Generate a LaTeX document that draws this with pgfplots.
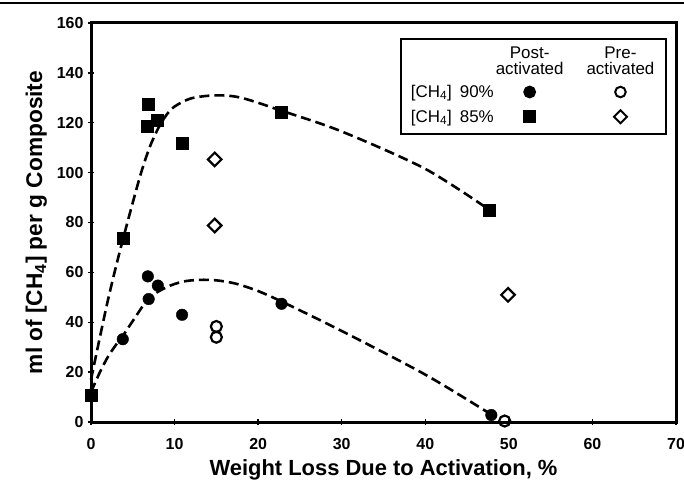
\documentclass[border=0pt]{standalone}
\usepackage{fontspec}
\setmainfont{Liberation Sans}
\usepackage{pgfplots}
\pgfplotsset{compat=1.18}
\begin{document}
\begin{tikzpicture}
\begin{axis}[
  scale only axis, width=585bp, height=399bp,
  xmin=0, xmax=70, ymin=0, ymax=160,
  xtick={0,10,...,70}, ytick={0,20,...,160},
  xtick pos=bottom, ytick pos=left,
  tick align=center, major tick length=6bp,
  every tick/.style={black, line width=1.3bp},
  axis line style={line width=3bp},
  /pgf/number format/assume math mode=true,
  ticklabel style={font=\bfseries\fontsize{16}{16}\selectfont},
  xticklabel style={yshift=-12bp, inner ysep=1bp},
  yticklabel style={xshift=-1bp},
  xlabel={Weight Loss Due to Activation, \%},
  ylabel={ml of [CH\textsubscript{4}] per g Composite},
  label style={font=\bfseries\fontsize{22}{22}\selectfont},
  xlabel style={at={(axis description cs:0.5,0)}, anchor=base, yshift=-53bp, inner ysep=1bp},
  ylabel style={yshift=3bp, font=\bfseries\fontsize{22.8}{22.8}\selectfont},
  clip=false,
  legend columns=3,
  legend style={at={(rel axis cs:0.985,0.962)}, anchor=north east,
    draw=black, line width=1.8bp, font=\fontsize{17}{16}\selectfont,
    inner xsep=8bp, inner ysep=8bp, row sep=7bp,
    /tikz/column 2/.style={column sep=0bp},
    /tikz/column 4/.style={column sep=19bp}},
]
% legend entries
\addlegendimage{empty legend}
\addlegendentry{}
\addlegendimage{legend image code/.code={\node[align=center,inner sep=0pt,font=\fontsize{17}{16}\selectfont] at (0.3cm,0.1cm) {Post-\\activated};}}
\addlegendentry{}
\addlegendimage{legend image code/.code={\node[align=center,inner sep=0pt,font=\fontsize{17}{16}\selectfont] at (0.3cm,0.1cm) {Pre-\\activated};}}
\addlegendentry{\hspace{3bp}}
\addlegendimage{empty legend}
\addlegendentry{[CH\textsubscript{4}]\hspace{8bp}90\%}
\addlegendimage{only marks, mark=*, mark size=5.5bp, black}
\addlegendentry{}
\addlegendimage{only marks, mark=o, mark size=5.3bp, black, line width=2bp}
\addlegendentry{\hspace{3bp}}
\addlegendimage{empty legend}
\addlegendentry{[CH\textsubscript{4}]\hspace{8bp}85\%}
\addlegendimage{only marks, mark=square*, mark size=5.5bp, black}
\addlegendentry{}
\addlegendimage{only marks, mark=square, mark size=4.6bp, black, line width=2bp, every mark/.append style={rotate=45}}
\addlegendentry{\hspace{3bp}}

% fitted dashed curves
\addplot[forget plot, black, line width=2.6bp, dash pattern=on 10bp off 5bp, smooth, tension=0.5] coordinates {
 (0,17) (1,33) (2,48.5) (3,62.5) (4,75.5) (5,88) (6,100) (7,110) (8,117.5) (9,123) (10,126.5)
 (12,129.8) (15,131) (18,130) (23,124.6) (30,116.5) (40,101.5) (47.7,85)};
\addplot[forget plot, black, line width=2.6bp, dash pattern=on 10bp off 5bp, smooth, tension=0.5] coordinates {
 (0,12) (1,19.5) (2,26) (3,31) (3.8,34.5) (5,40.5) (6.9,49.5) (9,54) (11,56.3) (13,57) (15,56.8)
 (17.3,55.5) (20,52.5) (23,48) (30,36.5) (40,19) (47.9,3)};

% CH4 90% post-activated
\addplot[forget plot, only marks, mark=*, mark size=5.8bp, black] coordinates {
 (0,11) (3.8,33.2) (6.8,58.4) (6.9,49.3) (8,54.7) (10.9,43) (22.8,47.4) (47.9,2.8)};
% CH4 90% pre-activated
\addplot[forget plot, only marks, mark=o, mark size=5.5bp, black, line width=2.2bp] coordinates {
 (15,38.3) (15,34) (49.5,0.4)};
% CH4 85% post-activated
\addplot[forget plot, only marks, mark=square*, mark size=6bp, black] coordinates {
 (0,10.9) (3.9,73.8) (6.8,127.4) (6.7,118.7) (7.9,121.1) (10.9,112) (22.8,124.3) (47.7,84.8)};
% CH4 85% pre-activated
\addplot[forget plot, only marks, mark=square, mark size=4.8bp, black, line width=2.2bp, every mark/.append style={rotate=45}] coordinates {
 (14.8,105.3) (14.8,78.8) (49.9,51)};
\end{axis}
\draw[line width=2.5bp] ([xshift=-91bp,yshift=20bp]current axis.north west) -- ([xshift=8bp,yshift=20bp]current axis.north east);
\pgfresetboundingbox
\path ([xshift=-91bp,yshift=23bp]current axis.north west) rectangle ([xshift=8bp,yshift=-60bp]current axis.south east);
\end{tikzpicture}
\end{document}
